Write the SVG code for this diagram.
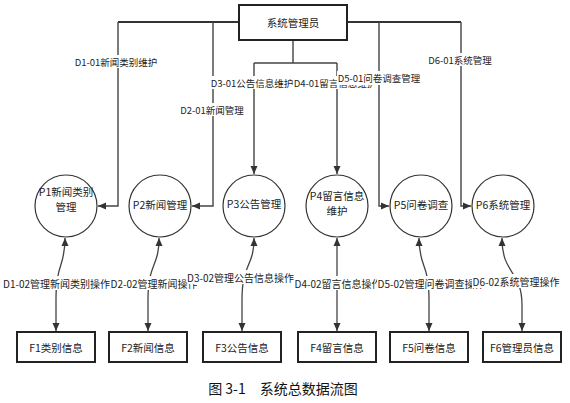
<svg xmlns="http://www.w3.org/2000/svg" width="570" height="403" viewBox="0 0 570 403">
<style>
text{font-family:"Noto Sans CJK SC","Noto Sans",sans-serif;fill:#222;text-anchor:middle;dominant-baseline:central}
.n{font-size:10.5px}
.lt{font-size:9.5px}
.lb{font-size:10px}
.cap{font-size:14px;fill:#111}
.box{fill:#fff;stroke:#222;stroke-width:2}
.circ{fill:#fff;stroke:#333;stroke-width:1.2}
.ln{fill:none;stroke:#444;stroke-width:1.4}
.lnb{fill:none;stroke:#333;stroke-width:2.2}
.arr{fill:none;stroke:#444;stroke-width:1.4;marker-end:url(#ah)}
.dbl{fill:none;stroke:#444;stroke-width:1.3;marker-start:url(#ah);marker-end:url(#ah)}
.bg{fill:#fff}
</style>
<defs>
<marker id="ah" markerUnits="userSpaceOnUse" markerWidth="9" markerHeight="8" refX="8" refY="4" orient="auto-start-reverse">
<path d="M0,0.5 L8,4 L0,7.5 z" fill="#333"/>
</marker>
</defs>
<rect width="570" height="403" fill="#fff"/>
<g id="connectors">
<path class="lnb" d="M118,22 H239 M347,22 H461"/>
<path class="arr" d="M118,22 V206 H98"/>
<path class="arr" d="M213,22 V206 H192"/>
<path class="ln" d="M293,40 V63 M254,63 H337"/>
<path class="arr" d="M254,63 V174"/>
<path class="arr" d="M337,63 V174"/>
<path class="arr" d="M379,22 V206 H389"/>
<path class="arr" d="M461,22 V206 H471"/>
<path class="dbl" d="M65,238 C65,268 56,262 56,300 V331"/>
<path class="dbl" d="M159,238 C159,268 148,262 148,300 V331"/>
<path class="dbl" d="M254,238 C254,268 242,262 242,300 V331"/>
<path class="dbl" d="M337,238 V331"/>
<path class="dbl" d="M419,238 C419,268 429,262 429,300 V331"/>
<path class="dbl" d="M502,238 C502,275 522,270 522,305 V331"/>
</g>
<g id="edge-labels">
<rect class="bg" x="77" y="55" width="78" height="13"/><text class="lt" x="116" y="61.5">D1-01新闻类别维护</text>
<rect class="bg" x="181" y="103" width="63" height="13"/><text class="lt" x="212" y="109.5">D2-01新闻管理</text>
<rect class="bg" x="211" y="76" width="82" height="13"/><text class="lt" x="252" y="82.5">D3-01公告信息维护</text>
<rect class="bg" x="294" y="76" width="82" height="13"/><text class="lt" x="335" y="82.5">D4-01留言信息维护</text>
<rect class="bg" x="337" y="71" width="84" height="14"/><text class="lt" x="379" y="77.5">D5-01问卷调查管理</text>
<rect class="bg" x="428" y="53" width="65" height="13"/><text class="lt" x="460" y="59.5">D6-01系统管理</text>
<rect class="bg" x="3" y="276" width="107" height="14"/><text class="lb" x="56.5" y="283">D1-02管理新闻类别操作</text>
<rect class="bg" x="110" y="276" width="88" height="14"/><text class="lb" x="154" y="283">D2-02管理新闻操作</text>
<rect class="bg" x="188" y="270" width="105" height="14"/><text class="lb" x="240.5" y="277">D3-02管理公告信息操作</text>
<rect class="bg" x="294" y="276" width="88" height="14"/><text class="lb" x="338" y="283">D4-02留言信息操作</text>
<rect class="bg" x="377" y="276" width="108" height="14"/><text class="lb" x="431" y="283">D5-02管理问卷调查操作</text>
<rect class="bg" x="472" y="274" width="88" height="14"/><text class="lb" x="516" y="281">D6-02系统管理操作</text>
</g>
<g id="admin"><rect class="box" x="239" y="5" width="108" height="35"/><text class="n" x="293" y="22.5">系统管理员</text></g>
<g id="P1"><circle class="circ" cx="66" cy="206" r="31"/><text class="n" x="66" y="191.5">P1新闻类别</text><text class="n" x="66" y="206">管理</text></g>
<g id="P2"><circle class="circ" cx="160" cy="206" r="31"/><text class="n" x="160" y="204">P2新闻管理</text></g>
<g id="P3"><circle class="circ" cx="254" cy="206" r="31"/><text class="n" x="254" y="203">P3公告管理</text></g>
<g id="P4"><circle class="circ" cx="337" cy="206" r="31"/><text class="n" x="337" y="195.5">P4留言信息</text><text class="n" x="337" y="210">维护</text></g>
<g id="P5"><circle class="circ" cx="421" cy="206" r="31"/><text class="n" x="421" y="204">P5问卷调查</text></g>
<g id="P6"><circle class="circ" cx="503" cy="206" r="31"/><text class="n" x="503" y="204">P6系统管理</text></g>
<g id="F1"><rect class="box" x="17" y="332" width="78" height="30"/><text class="n" x="56" y="347">F1类别信息</text></g>
<g id="F2"><rect class="box" x="109" y="332" width="78" height="30"/><text class="n" x="148" y="347">F2新闻信息</text></g>
<g id="F3"><rect class="box" x="203" y="332" width="78" height="30"/><text class="n" x="242" y="347">F3公告信息</text></g>
<g id="F4"><rect class="box" x="298" y="332" width="78" height="30"/><text class="n" x="337" y="347">F4留言信息</text></g>
<g id="F5"><rect class="box" x="390" y="332" width="78" height="30"/><text class="n" x="429" y="347">F5问卷信息</text></g>
<g id="F6"><rect class="box" x="483" y="332" width="78" height="30"/><text class="n" x="522" y="347">F6管理员信息</text></g>
<text class="cap" x="283" y="388" xml:space="preserve">图 3-1　系统总数据流图</text>
</svg>
